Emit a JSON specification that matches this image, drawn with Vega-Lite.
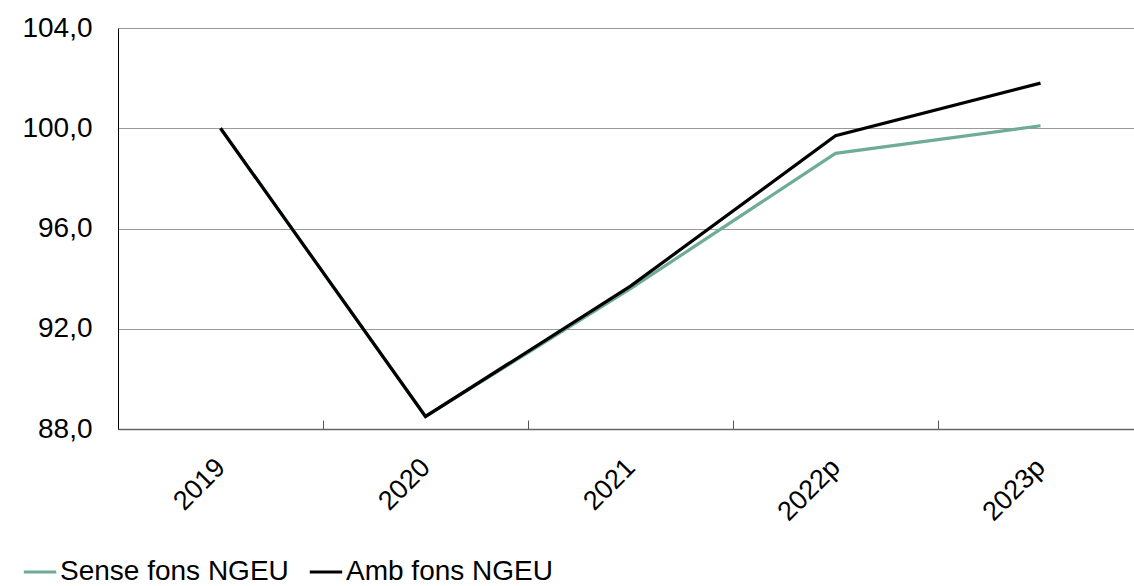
{
  "$schema": "https://vega.github.io/schema/vega-lite/v6.json",
  "autosize": "none",
  "width": 1016,
  "height": 401,
  "padding": {"left": 118, "top": 28, "right": 0, "bottom": 157},
  "background": "white",
  "config": {"view": {"stroke": null}, "font": "Liberation Sans"},
  "data": {"values": [
    {"year": "2019", "serie": "Sense fons NGEU", "v": 100.0},
    {"year": "2020", "serie": "Sense fons NGEU", "v": 88.5},
    {"year": "2021", "serie": "Sense fons NGEU", "v": 93.6},
    {"year": "2022p", "serie": "Sense fons NGEU", "v": 99.0},
    {"year": "2023p", "serie": "Sense fons NGEU", "v": 100.1},
    {"year": "2019", "serie": "Amb fons NGEU", "v": 100.0},
    {"year": "2020", "serie": "Amb fons NGEU", "v": 88.5},
    {"year": "2021", "serie": "Amb fons NGEU", "v": 93.7},
    {"year": "2022p", "serie": "Amb fons NGEU", "v": 99.7},
    {"year": "2023p", "serie": "Amb fons NGEU", "v": 101.8}
  ]},
  "mark": {"type": "line", "strokeWidth": 3.2},
  "encoding": {
    "x": {"field": "year", "type": "ordinal", "sort": null, "title": null,
      "scale": {"paddingInner": 0, "paddingOuter": 0, "range": [0, 1025]},
      "axis": {"labelAngle": -45, "labelFontSize": 27, "labelColor": "black", "labelAlign": "right", "labelBaseline": "middle",
        "labelPadding": 43, "labelOffset": 0, "tickBand": "extent", "tickSize": -9, "tickColor": "#555", "domainColor": "#666", "domainWidth": 1.5, "grid": false}},
    "y": {"field": "v", "type": "quantitative", "title": null,
      "scale": {"domain": [88, 104], "nice": false, "zero": false},
      "axis": {"values": [88, 92, 96, 100, 104], "format": ",.1f", "labelExpr": "replace(datum.label, '.', ',')",
        "labelFontSize": 28, "labelColor": "black", "labelPadding": 26, "ticks": false, "domainColor": "black", "domainWidth": 1,
        "gridColor": "#999", "gridWidth": 1}},
    "color": {"field": "serie", "type": "nominal", "sort": ["Sense fons NGEU", "Amb fons NGEU"],
      "scale": {"domain": ["Sense fons NGEU", "Amb fons NGEU"], "range": ["#6eac97", "#000000"]},
      "legend": {"title": null, "orient": "none", "legendX": -96, "legendY": 526, "direction": "horizontal",
        "symbolType": "stroke", "symbolSize": 1050, "symbolStrokeWidth": 3, "labelFontSize": 28, "labelColor": "black",
        "labelOffset": 2, "columnPadding": 14, "labelLimit": 400}}
  }
}
